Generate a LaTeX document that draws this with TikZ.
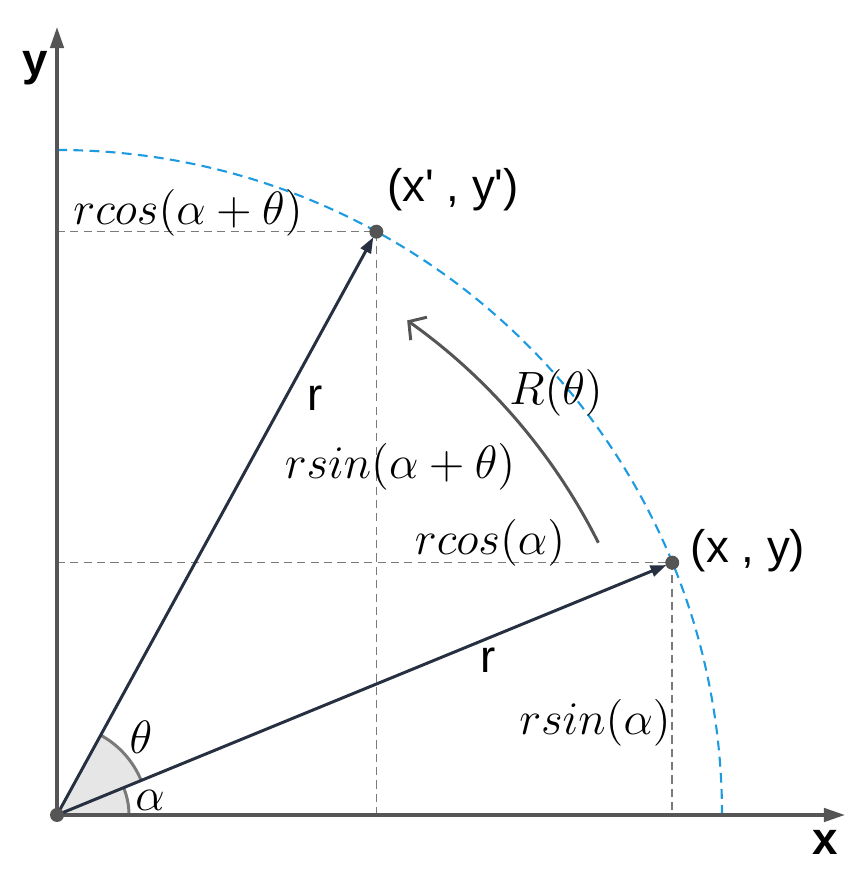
\RequirePackage{fix-cm}
\documentclass[tikz,border=0pt]{standalone}
\usepackage{amsmath}
\usepackage{fontspec}
\setsansfont{Liberation Sans}
\usepackage{xcolor}
\usepackage{tikz}
\usetikzlibrary{positioning, arrows.meta}

\definecolor{axisgray}{HTML}{555555}
\definecolor{vecdark}{HTML}{263040}
\definecolor{arcblue}{HTML}{1E9BE0}
\definecolor{guidegray}{HTML}{7A7A7A}
\definecolor{wedgefill}{HTML}{E6E6E6}

\begin{document}
\begin{tikzpicture}[
    axis/.style={draw=axisgray, line width=1pt, -{Triangle[length=6pt,width=3.8pt]}},
    vec/.style={draw=vecdark, line width=0.85pt, -{Triangle[length=4.5pt,width=3.2pt]}, shorten >=1.8pt},
    guide/.style={draw=guidegray, line width=0.45pt, dash pattern=on 2.3pt off 1.5pt},
    circ/.style={draw=arcblue, line width=0.6pt, dash pattern=on 2.8pt off 1.8pt},
    rot/.style={draw=axisgray, line width=0.85pt, -{Straight Barb[length=3.5pt,width=8pt]}},
    dot/.style={circle, fill=axisgray, inner sep=0pt, minimum size=0.14cm},
    mathlbl/.style={font=\fontsize{13.3}{16}\selectfont, inner sep=1pt},
    sanslbl/.style={font=\sffamily\fontsize{13}{15}\selectfont, inner sep=1pt},
    axislbl/.style={font=\sffamily\bfseries\fontsize{13}{15}\selectfont, inner sep=0pt}
]
    \useasboundingbox (-0.57,-0.61) rectangle (8.02,8.15);

    % points on the circle
    \coordinate (O) at (0,0);
    \coordinate (P) at (22.3:6.65);
    \coordinate (Q) at (61.3:6.65);
    \coordinate (Px) at (P |- O);
    \coordinate (Py) at (P -| O);
    \coordinate (Qx) at (Q |- O);
    \coordinate (Qy) at (Q -| O);
    \coordinate (xend) at (7.88,0);
    \coordinate (yend) at (0,7.88);
    \coordinate (rs) at (26.7:6.06);

    % angle wedges
    \fill[wedgefill] (O) -- (0:0.72) arc[start angle=0, end angle=22.3, radius=0.72] -- cycle;
    \fill[wedgefill] (O) -- (22.3:0.91) arc[start angle=22.3, end angle=61.3, radius=0.91] -- cycle;
    \draw[guidegray, line width=0.85pt] (0:0.72) arc[start angle=0, end angle=22.3, radius=0.72];
    \draw[guidegray, line width=0.85pt] (22.3:0.91) arc[start angle=22.3, end angle=61.3, radius=0.91];

    % dashed guides
    \draw[guide] (Py) -- (P) -- (Px);
    \draw[guide] (Qy) -- (Q) -- (Qx);

    % dashed circle
    \draw[circ] (6.65,0) arc[start angle=0, end angle=90, radius=6.65];

    % axes
    \draw[axis] (O) -- (xend);
    \draw[axis] (O) -- (yend);

    % vectors
    \draw[vec] (O) -- (P);
    \draw[vec] (O) -- (Q);

    % rotation
    \draw[rot] (rs) arc[start angle=26.7, end angle=54.7, radius=6.06];

    \node[dot] (o) at (O) {};
    \node[dot] (p) at (P) {};
    \node[dot] (q) at (Q) {};

    % labels
    \node[axislbl] (ylbl) at (-0.22,7.47) {y};
    \node[axislbl] (xlbl) at (7.68,-0.27) {x};
    \node[sanslbl] (plbl) at (6.91,2.64) {(x , y)};
    \node[sanslbl] (qlbl) at (3.96,6.25) {(x\textquotesingle{} , y\textquotesingle)};
    \node[sanslbl] (r1) at (2.58,4.17) {r};
    \node[sanslbl] (r2) at (4.31,1.55) {r};
    \node[mathlbl] (cosab) at (1.31,6.02) {$rcos(\alpha+\theta)$};
    \node[mathlbl] (sinab) at (3.43,3.48) {$rsin(\alpha+\theta)$};
    \node[mathlbl] (cosa) at (4.33,2.72) {$rcos(\alpha)$};
    \node[mathlbl] (sina) at (5.38,0.92) {$rsin(\alpha)$};
    \node[mathlbl] (Rlbl) at (4.99,4.22) {$R(\theta)$};
    \node[mathlbl] (thlbl) at (0.84,0.78) {$\theta$};
    \node[mathlbl] (allbl) at (0.93,0.15) {$\alpha$};
\end{tikzpicture}
\end{document}
